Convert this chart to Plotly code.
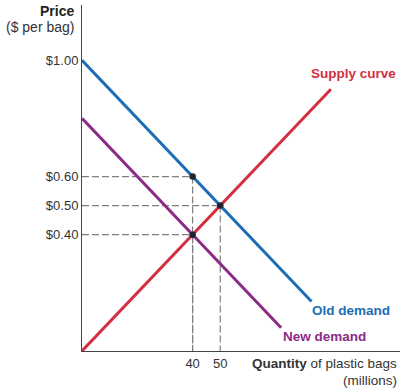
import plotly.graph_objects as go

# Data
supply_q = [0, 90]
supply_p = [0.0, 0.90]
old_demand_q = [0, 83]
old_demand_p = [1.00, 0.17]
new_demand_q = [0, 72]
new_demand_p = [0.80, 0.08]
point_q = [40, 50, 40]
point_p = [0.60, 0.50, 0.40]
y_tick_vals = [1.00, 0.60, 0.50, 0.40]
y_tick_text = ["$1.00", "$0.60", "$0.50", "$0.40"]
x_tick_vals = [40, 50]
x_tick_text = ["40", "50"]

RED = "#d22f3f"
BLUE = "#1d6db5"
PURPLE = "#8c2b86"
FONT = "Liberation Sans, Arial, sans-serif"

W, H = 404, 391
ML, MR, MT, MB = 82, 4, 5, 40

fig = go.Figure()

# dashed guide lines
for q, p in zip(point_q, point_p):
    fig.add_trace(go.Scatter(x=[0, q], y=[p, p], mode="lines",
                             line=dict(color="#808080", width=1.2, dash="7px,3px"),
                             hoverinfo="skip", showlegend=False))
    fig.add_trace(go.Scatter(x=[q, q], y=[p, 0], mode="lines",
                             line=dict(color="#808080", width=1.2, dash="7px,3px"),
                             hoverinfo="skip", showlegend=False))

fig.add_trace(go.Scatter(x=new_demand_q, y=new_demand_p, mode="lines",
                         line=dict(color=PURPLE, width=3), showlegend=False))
fig.add_trace(go.Scatter(x=old_demand_q, y=old_demand_p, mode="lines",
                         line=dict(color=BLUE, width=3), showlegend=False))
fig.add_trace(go.Scatter(x=supply_q, y=supply_p, mode="lines",
                         line=dict(color=RED, width=3), showlegend=False))
fig.add_trace(go.Scatter(x=point_q, y=point_p, mode="markers",
                         marker=dict(color="#222233", size=6.5), showlegend=False))

fig.update_layout(
    width=W, height=H,
    margin=dict(l=ML, r=MR, t=MT, b=MB),
    paper_bgcolor="white", plot_bgcolor="white",
    font=dict(family=FONT, size=13, color="#333"),
    xaxis=dict(range=[0, 115], showgrid=False, zeroline=False, showline=True,
               linecolor="#444", linewidth=1, tickvals=x_tick_vals, ticktext=x_tick_text,
               ticks="", tickfont=dict(size=13, color="#333")),
    yaxis=dict(range=[0, 1.19], showgrid=False, zeroline=False, showline=True,
               linecolor="#444", linewidth=1, tickvals=y_tick_vals, ticktext=y_tick_text,
               ticks="", tickfont=dict(size=13, color="#333")),
    showlegend=False,
)


def px_to_paper_x(px):
    return (px - ML) / (W - ML - MR)


def px_to_paper_y(py):
    return (H - MB - py) / (H - MT - MB)


def label(px, py, text, color, size=13.5):
    fig.add_annotation(x=px_to_paper_x(px), y=px_to_paper_y(py), xref="paper", yref="paper",
                       text=text, showarrow=False, xanchor="right", yanchor="middle",
                       font=dict(color=color, size=size, family=FONT))


label(398, 73, "<b>Supply curve</b>", RED)
label(392, 310, "<b>Old demand</b>", BLUE)
label(368, 336, "<b>New demand</b>", PURPLE)
label(76, 11, "<b>Price</b>", "#222", 14)
label(76, 27, "($ per bag)", "#333", 14)
label(399, 363, "<b>Quantity</b> of plastic bags", "#333")
label(399, 380, "(millions)", "#333")

fig.write_html("out.html",
               config={"displayModeBar": False},
               post_script="document.body.style.margin='0';document.body.style.padding='0';")
